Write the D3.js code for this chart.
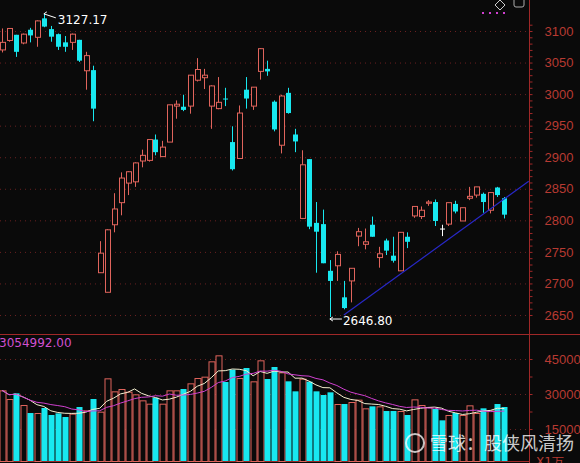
<!DOCTYPE html>
<html>
<head>
<meta charset="utf-8">
<script src="https://cdn.jsdelivr.net/npm/d3@7"></script>
<style>
  body { margin: 0; background: #0a0a0a; }
  svg { display: block; font-family: "DejaVu Sans", Arial, sans-serif; }
</style>
</head>
<body>
<svg id="chart" width="580" height="463"></svg>
<script>
// daily candles [open, high, low, close]
const candles = [
  [3070,3104,3066,3082],[3085,3104,3083,3104],[3094,3094,3059,3067],[3081,3096,3079,3095],
  [3102,3105,3082,3093],[3090,3117,3075,3116],[3120,3127.17,3106,3107],[3103,3108,3083,3091],
  [3095,3096,3070,3075],[3082,3092,3067,3075],[3082,3096,3070,3095],[3086,3086,3051,3053],
  [3037,3067,3007,3061],[3038,3045,2957,2977],[2717,2767,2717,2748],[2686,2786,2686,2785],
  [2793,2843,2781,2818],[2828,2876,2808,2867],[2859,2878,2840,2877],[2861,2892,2853,2891],
  [2894,2912,2884,2903],[2895,2928,2893,2928],[2928,2936,2903,2908],[2901,2926,2901,2916],
  [2924,2983,2924,2983],[2981,2990,2961,2984],[2980,2999,2973,2975],[2981,3030,2969,3030],
  [3022,3057,3020,3039],[3026,3040,3008,3030],[2981,3014,2945,3013],[2977,3027,2976,2987],
  [2993,3010,2981,2992],[2924,2949,2879,2881],[2898,2982,2898,2970],[3007,3027,2977,2993],
  [2981,3011,2975,3011],[3036,3073,3023,3072],[3040,3053,3029,3036],[2988,2990,2941,2944],
  [2919,2999,2906,2997],[3002,3010,2969,2970],[2936,2945,2908,2925],[2803,2911,2802,2888],
  [2897,2897,2786,2790],[2796,2829,2717,2782],[2794,2817,2732,2732],[2720,2737,2646.8,2704],
  [2728,2751,2704,2746],[2678,2704,2659,2661],[2704,2724,2670,2724],[2775,2788,2759,2782],
  [2762,2787,2754,2766],[2793,2806,2774,2774],[2741,2758,2725,2747],[2768,2771,2745,2752],
  [2744,2774,2733,2736],[2720,2781,2720,2781],[2774,2781,2756,2766],[2807,2822,2804,2822],
  [2806,2822,2802,2816],[2827,2832,2823,2829],[2829,2833,2791,2799],[2787,2793,2775,2787],
  [2794,2828,2791,2828],[2826,2831,2811,2814],[2799,2820,2799,2820],[2835,2853,2832,2838],
  [2840,2853,2836,2853],[2842,2844,2812,2829],[2816,2844,2811,2844],[2852,2853,2837,2840],
  [2835,2837,2803,2809]
];
// volume, x1万
const volumes = [
  31570,27850,30290,25280,21850,21850,24000,21000,21700,20140,21570,24430,23000,27850,22430,36710,
  31140,32140,31000,29860,27280,25850,28420,25850,31570,31570,32140,34570,36850,37430,44000,46570,
  35140,40430,36850,41140,35430,44430,36430,41570,39290,35430,31140,36570,35290,31140,29570,30710,
  25710,25710,26570,27570,23860,24710,24710,22710,22710,22710,21000,27710,25280,24430,23570,18710,
  21000,21850,21000,25140,21850,23860,23000,25710,24430
];
const priceTicks = [3100, 3050, 3000, 2950, 2900, 2850, 2800, 2750, 2700, 2650];
const volTicks = [45000, 30000, 15000];
const trendLine = [[49, 2650], [75.5, 2862]];
const highLabel = "3127.17", lowLabel = "2646.80";

const svg = d3.select("#chart");
const red = "#e0645c", cyan = "#18e8f0", axisRed = "#a02828";

const x = d3.scaleLinear().domain([0, 72]).range([2, 504.3]);
const y = d3.scaleLinear().domain([2650, 3100]).range([315, 31]);
const yv = d3.scaleLinear().domain([0, 45000]).range([464, 359]);
const up = d => d[3] > d[0];
const flat = d => d[3] === d[0];

// grids
svg.append("g").selectAll("line").data(priceTicks).join("line")
  .attr("x1", 0).attr("x2", 528).attr("y1", d => y(d) + 0.5).attr("y2", d => y(d) + 0.5)
  .attr("stroke", "#6a2020").attr("stroke-dasharray", "1,4");
svg.append("g").selectAll("line").data(volTicks).join("line")
  .attr("x1", 0).attr("x2", 528).attr("y1", d => yv(d) + 0.5).attr("y2", d => yv(d) + 0.5)
  .attr("stroke", "#6a2020").attr("stroke-dasharray", "1,4");

// axes
const pAxis = svg.append("g").attr("transform", "translate(529.5,0)")
  .call(d3.axisRight(y).tickValues(d3.range(2650, 3111, 10)).tickSize(3).tickFormat(d => priceTicks.includes(d) ? d : ""));
const vAxis = svg.append("g").attr("transform", "translate(529.5,0)")
  .call(d3.axisRight(yv).tickValues([15000, 22500, 30000, 37500, 45000]).tickSize(3).tickFormat(d => volTicks.includes(d) ? d : ""));
[pAxis, vAxis].forEach(a => {
  a.select(".domain").remove();
  a.selectAll("line").attr("stroke", axisRed);
  a.selectAll("text").attr("fill", "#b83a32").attr("font-size", 13).attr("x", 15).attr("font-family", "Liberation Sans, Arial");
});
svg.append("line").attr("x1", 529.5).attr("x2", 529.5).attr("y1", 0).attr("y2", 463).attr("stroke", axisRed);
svg.append("line").attr("x1", 0).attr("x2", 580).attr("y1", 334.5).attr("y2", 334.5).attr("stroke", axisRed);
svg.append("line").attr("x1", 0).attr("x2", 529).attr("y1", 461.5).attr("y2", 461.5).attr("stroke", axisRed);

// candles
const cg = svg.append("g").selectAll("g").data(candles).join("g");
cg.append("line")
  .attr("x1", (d, i) => Math.round(x(i)) + 0.5).attr("x2", (d, i) => Math.round(x(i)) + 0.5)
  .attr("y1", d => y(d[1])).attr("y2", d => y(d[2]))
  .attr("stroke", d => flat(d) ? "#ffffff" : up(d) ? red : cyan);
cg.append("rect")
  .attr("x", (d, i) => Math.round(x(i)) - 2)
  .attr("width", 5)
  .attr("y", d => y(Math.max(d[0], d[3])))
  .attr("height", d => Math.max(1, Math.abs(y(d[0]) - y(d[3]))))
  .attr("fill", d => flat(d) ? "#ffffff" : up(d) ? "#0a0a0a" : cyan)
  .attr("stroke", d => flat(d) ? "none" : up(d) ? red : cyan)
  .attr("stroke-width", d => up(d) ? 1 : 0)
  .attr("transform", d => up(d) ? "translate(0.5,0)" : null);

// trend line
svg.append("line")
  .attr("x1", x(trendLine[0][0])).attr("y1", y(trendLine[0][1]))
  .attr("x2", x(trendLine[1][0])).attr("y2", y(trendLine[1][1]))
  .attr("stroke", "#2828c8").attr("stroke-width", 1.2);

// high / low marks
const hi = d3.maxIndex(candles, d => d[1]), lo = d3.minIndex(candles, d => d[2]);
svg.append("path").attr("d", `M${x(hi)},${y(candles[hi][1])}l3,-2 M${x(hi)},${y(candles[hi][1])}l12,4`)
  .attr("stroke", "#fff").attr("fill", "none");
svg.append("text").attr("x", x(hi) + 14).attr("y", 24).attr("fill", "#fff")
  .attr("font-size", 12).text(highLabel);
const ly = y(candles[lo][2]) + 2;
svg.append("path").attr("d", `M${x(lo)},${ly}h12 M${x(lo)},${ly}l3,-2 M${x(lo)},${ly}l3,2`)
  .attr("stroke", "#fff").attr("fill", "none");
svg.append("text").attr("x", x(lo) + 13).attr("y", ly + 6).attr("fill", "#fff")
  .attr("font-size", 12).text(lowLabel);

// volume bars
svg.append("g").selectAll("rect").data(volumes).join("rect")
  .attr("x", (d, i) => Math.round(x(i)) - 2.5)
  .attr("width", 6)
  .attr("y", d => yv(d))
  .attr("height", d => 461 - yv(d))
  .attr("fill", (d, i) => up(candles[i]) ? "#0a0a0a" : cyan)
  .attr("stroke", (d, i) => up(candles[i]) ? red : "none")
  .attr("transform", (d, i) => up(candles[i]) ? "translate(0.5,0.5)" : null);

// moving averages of volume
const ma = n => volumes.map((v, i) => d3.mean(volumes.slice(Math.max(0, i - n + 1), i + 1)));
const line = d3.line().x((d, i) => x(i)).y(d => yv(d));
svg.append("path").attr("d", line(ma(5))).attr("fill", "none").attr("stroke", "#f4f0d0");
svg.append("path").attr("d", line(ma(10))).attr("fill", "none").attr("stroke", "#d040d0");

svg.append("text").attr("x", -1).attr("y", 347).attr("fill", "#d050d0").attr("font-size", 12).text("3054992.00");
svg.append("text").attr("x", 536).attr("y", 466).attr("fill", "#b83a32").attr("font-size", 12).text("X1万");

// top right icons
svg.append("path").attr("d", "M500,0l5,5l-5,5l-5,-5z").attr("fill", "none").attr("stroke", "#ccc");
svg.append("rect").attr("x", 514).attr("y", -3).attr("width", 10).attr("height", 10).attr("rx", 2)
  .attr("fill", "none").attr("stroke", "#aaa");
svg.append("line").attr("x1", 482).attr("x2", 506).attr("y1", 13).attr("y2", 13)
  .attr("stroke", "#d040d0").attr("stroke-width", 2).attr("stroke-dasharray", "2,5");

// watermark
svg.append("circle").attr("cx", 415).attr("cy", 443).attr("r", 9).attr("fill", "none")
  .attr("stroke", "rgba(255,255,255,0.75)").attr("stroke-width", 2);
svg.append("text").attr("x", 430).attr("y", 450).attr("fill", "rgba(255,255,255,0.8)")
  .attr("font-size", 18).attr("font-family", "Noto Sans CJK SC").text("雪球：股侠风清扬");
</script>
</body>
</html>
